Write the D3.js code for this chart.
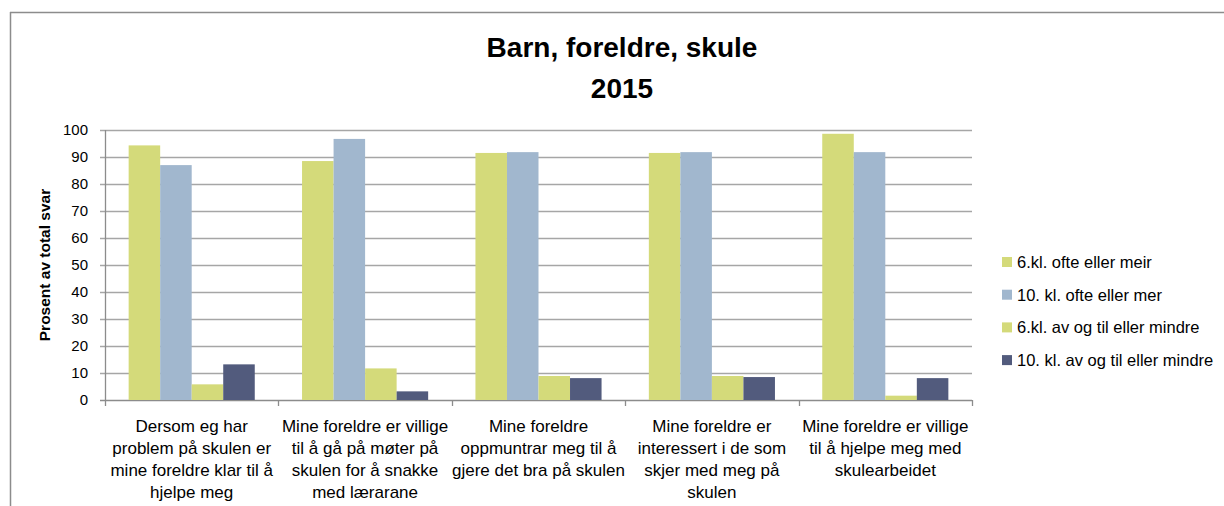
<!DOCTYPE html>
<html>
<head>
<meta charset="utf-8">
<script src="https://cdn.jsdelivr.net/npm/d3@7"></script>
<style>
  body { margin: 0; background: #fff; }
  svg { display: block; }
</style>
</head>
<body>
<div id="chart"></div>
<script>
// Chart data
const categories = [
    ['Dersom eg har', 'problem på skulen er', 'mine foreldre klar til å', 'hjelpe meg'],
    ['Mine foreldre er villige', 'til å gå på møter på', 'skulen for å snakke', 'med lærarane'],
    ['Mine foreldre', 'oppmuntrar meg til å', 'gjere det bra på skulen'],
    ['Mine foreldre er', 'interessert i de som', 'skjer med meg på', 'skulen'],
    ['Mine foreldre er villige', 'til å hjelpe meg med', 'skulearbeidet']
];
const seriesNames = [
    '6.kl. ofte eller meir',
    '10. kl. ofte eller mer',
    '6.kl. av og til eller mindre',
    '10. kl. av og til eller mindre'
];
const seriesColors = ['#d4da7a', '#a1b7ce', '#d4da7a', '#525b7d'];
const ofte6 = [94.3, 88.5, 91.5, 91.5, 98.6];
const ofte10 = [87.0, 96.7, 91.8, 91.8, 91.8];
const avogtil6 = [5.8, 11.7, 8.9, 8.9, 1.6];
const avogtil10 = [13.2, 3.2, 8.1, 8.5, 8.1];
const yTicks = [0, 10, 20, 30, 40, 50, 60, 70, 80, 90, 100];

const series = [ofte6, ofte10, avogtil6, avogtil10];

const W = 1224, H = 506;
const plot = { left: 105, right: 972, top: 130, bottom: 400 };

const svg = d3.select('#chart').append('svg')
    .attr('width', W)
    .attr('height', H);

// Outer frame (top and left edges visible)
svg.append('line')
    .attr('x1', 10).attr('x2', W).attr('y1', 12.5).attr('y2', 12.5)
    .attr('stroke', '#8c8c8c').attr('stroke-width', 1.5);
svg.append('line')
    .attr('x1', 10.5).attr('x2', 10.5).attr('y1', 12).attr('y2', H)
    .attr('stroke', '#8c8c8c').attr('stroke-width', 1.5);

// Title
const title = svg.append('text')
    .attr('text-anchor', 'middle')
    .style('font-family', '"Liberation Sans", Arial, sans-serif')
    .style('font-weight', 'bold')
    .style('font-size', '28px')
    .attr('fill', '#000');
title.append('tspan').attr('x', 622).attr('y', 57).text('Barn, foreldre, skule');
title.append('tspan').attr('x', 622).attr('y', 98).text('2015');

const x0 = d3.scaleBand()
    .domain(d3.range(categories.length))
    .range([plot.left, plot.right])
    .paddingInner(0)
    .paddingOuter(0);

// Excel-like gap width: bars = 4 of 5.5 slots
const groupW = x0.bandwidth() * 4 / 5.5;
const x1 = d3.scaleBand()
    .domain(d3.range(series.length))
    .range([0, groupW]);

const y = d3.scaleLinear()
    .domain([0, 100])
    .range([plot.bottom, plot.top]);

// Gridlines
svg.append('g')
    .selectAll('line')
    .data(yTicks)
    .enter()
    .append('line')
    .attr('x1', plot.left - 5)
    .attr('x2', plot.right)
    .attr('y1', d => Math.round(y(d)) + 0.5)
    .attr('y2', d => Math.round(y(d)) + 0.5)
    .attr('stroke', d => d === 0 ? '#8c8c8c' : '#a6a6a6')
    .attr('stroke-width', 1.3);

// Y axis line
svg.append('line')
    .attr('x1', plot.left + 0.5).attr('x2', plot.left + 0.5)
    .attr('y1', plot.top).attr('y2', plot.bottom + 0.5)
    .attr('stroke', '#8c8c8c').attr('stroke-width', 1.3);

// Y tick labels
svg.append('g')
    .selectAll('text')
    .data(yTicks)
    .enter()
    .append('text')
    .attr('x', 88)
    .attr('y', d => y(d) + 5)
    .attr('text-anchor', 'end')
    .style('font-family', '"Liberation Sans", Arial, sans-serif')
    .style('font-size', '15px')
    .attr('fill', '#000')
    .text(d => d);

// Category ticks
svg.append('g')
    .selectAll('line')
    .data(d3.range(categories.length + 1))
    .enter()
    .append('line')
    .attr('x1', i => Math.round(plot.left + i * x0.bandwidth()) + 0.5)
    .attr('x2', i => Math.round(plot.left + i * x0.bandwidth()) + 0.5)
    .attr('y1', plot.bottom)
    .attr('y2', plot.bottom + 6)
    .attr('stroke', '#8c8c8c')
    .attr('stroke-width', 1.3);

// Bars
const groups = svg.append('g')
    .selectAll('g')
    .data(categories.map((c, i) => i))
    .enter()
    .append('g')
    .attr('transform', i => `translate(${x0(i) + (x0.bandwidth() - groupW) / 2},0)`);

groups.selectAll('rect')
    .data(i => series.map((s, k) => ({ k, v: s[i] })))
    .enter()
    .append('rect')
    .attr('x', d => x1(d.k))
    .attr('width', x1.bandwidth())
    .attr('y', d => y(d.v))
    .attr('height', d => y(0) - y(d.v))
    .attr('fill', d => seriesColors[d.k]);

// Category labels
const catLabels = svg.append('g')
    .selectAll('text')
    .data(categories)
    .enter()
    .append('text')
    .attr('text-anchor', 'middle')
    .style('font-family', '"Liberation Sans", Arial, sans-serif')
    .style('font-size', '17px')
    .attr('fill', '#000');

catLabels.each(function (lines, i) {
    const cx = x0(i) + x0.bandwidth() / 2;
    d3.select(this).selectAll('tspan')
        .data(lines)
        .enter()
        .append('tspan')
        .attr('x', cx)
        .attr('y', (d, j) => 432 + j * 22)
        .text(d => d);
});

// Y axis title
svg.append('text')
    .attr('transform', `translate(50,${(plot.top + plot.bottom) / 2}) rotate(-90)`)
    .attr('text-anchor', 'middle')
    .style('font-family', '"Liberation Sans", Arial, sans-serif')
    .style('font-weight', 'bold')
    .style('font-size', '15.5px')
    .attr('fill', '#000')
    .text('Prosent av total svar');

// Legend
const legend = svg.append('g')
    .selectAll('g')
    .data(seriesNames)
    .enter()
    .append('g')
    .attr('transform', (d, i) => `translate(1002,${262 + i * 32.7})`);

legend.append('rect')
    .attr('x', 0)
    .attr('y', -5)
    .attr('width', 10)
    .attr('height', 10)
    .attr('fill', (d, i) => seriesColors[i]);

legend.append('text')
    .attr('x', 15)
    .attr('y', 6)
    .style('font-family', '"Liberation Sans", Arial, sans-serif')
    .style('font-size', '16.5px')
    .attr('fill', '#000')
    .text(d => d);
</script>
</body>
</html>
